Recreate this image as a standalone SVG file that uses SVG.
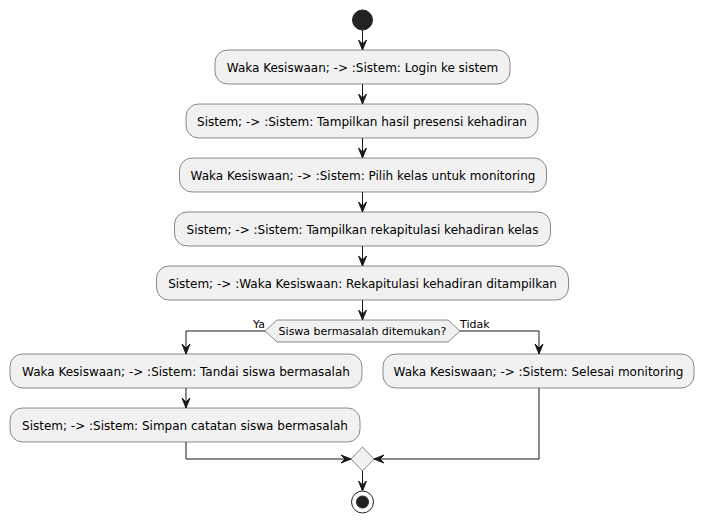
<svg xmlns="http://www.w3.org/2000/svg" width="704" height="523" viewBox="0 0 704 523">
<style>
.box{fill:#F1F1F1;stroke:#181818;stroke-width:0.5}
.t{font-family:"DejaVu Sans",sans-serif;font-size:12px;fill:#000;text-anchor:middle}
.s{font-family:"DejaVu Sans",sans-serif;font-size:11px;fill:#000}
.ln{fill:none;stroke:#181818;stroke-width:1}
.ah{fill:#181818;stroke:#181818;stroke-width:1}
</style>
<defs>
<polygon id="ad" points="-4,-10 0,0 4,-10 0,-6"/>
<polygon id="ar" points="-10,-4 0,0 -10,4 -6,0"/>
<polygon id="al" points="10,-4 0,0 10,4 6,0"/>
</defs>
<rect width="704" height="523" fill="#FFFFFF"/>
<g id="connectors">
<line class="ln" x1="362.5" y1="30" x2="362.5" y2="50"/>
<use href="#ad" class="ah" x="362.5" y="50"/>
<line class="ln" x1="362.5" y1="84" x2="362.5" y2="104"/>
<use href="#ad" class="ah" x="362.5" y="104"/>
<line class="ln" x1="362.5" y1="138" x2="362.5" y2="158"/>
<use href="#ad" class="ah" x="362.5" y="158"/>
<line class="ln" x1="362.5" y1="192" x2="362.5" y2="212"/>
<use href="#ad" class="ah" x="362.5" y="212"/>
<line class="ln" x1="362.5" y1="246" x2="362.5" y2="266"/>
<use href="#ad" class="ah" x="362.5" y="266"/>
<line class="ln" x1="362.5" y1="300" x2="362.5" y2="320"/>
<use href="#ad" class="ah" x="362.5" y="320"/>
<polyline class="ln" points="265,331 186,331 186,354"/>
<use href="#ad" class="ah" x="186" y="354"/>
<polyline class="ln" points="460,331 539,331 539,354"/>
<use href="#ad" class="ah" x="539" y="354"/>
<line class="ln" x1="186" y1="388" x2="186" y2="408"/>
<use href="#ad" class="ah" x="186" y="408"/>
<polyline class="ln" points="186,442 186,459 351,459"/>
<use href="#ar" class="ah" x="351" y="459"/>
<polyline class="ln" points="539,388 539,459 374,459"/>
<use href="#al" class="ah" x="374" y="459"/>
<line class="ln" x1="362.5" y1="471" x2="362.5" y2="491"/>
<use href="#ad" class="ah" x="362.5" y="491"/>
<text class="s" x="253" y="328">Ya</text>
<text class="s" x="460" y="328">Tidak</text>
</g>
<g id="start"><circle cx="362.5" cy="20" r="10" fill="#222222" stroke="#222222"/></g>
<g id="n1"><rect class="box" x="215" y="50" width="295" height="34" rx="12.5"/><text class="t" x="362.5" y="71.5">Waka Kesiswaan; -&gt; :Sistem: Login ke sistem</text></g>
<g id="n2"><rect class="box" x="186" y="104" width="352" height="34" rx="12.5"/><text class="t" x="362" y="125.5">Sistem; -&gt; :Sistem: Tampilkan hasil presensi kehadiran</text></g>
<g id="n3"><rect class="box" x="179.5" y="158" width="367" height="34" rx="12.5"/><text class="t" x="363" y="179.5">Waka Kesiswaan; -&gt; :Sistem: Pilih kelas untuk monitoring</text></g>
<g id="n4"><rect class="box" x="174.5" y="212" width="376" height="34" rx="12.5"/><text class="t" x="362.5" y="233.5">Sistem; -&gt; :Sistem: Tampilkan rekapitulasi kehadiran kelas</text></g>
<g id="n5"><rect class="box" x="156.5" y="266" width="412" height="34" rx="12.5"/><text class="t" x="362.5" y="287.5">Sistem; -&gt; :Waka Kesiswaan: Rekapitulasi kehadiran ditampilkan</text></g>
<g id="d1"><polygon class="box" points="277,320 448,320 460,331 448,342 277,342 265,331"/><text class="s" x="362.5" y="335" text-anchor="middle">Siswa bermasalah ditemukan?</text></g>
<g id="n6"><rect class="box" x="10" y="354" width="352" height="34" rx="12.5"/><text class="t" x="186" y="375.5">Waka Kesiswaan; -&gt; :Sistem: Tandai siswa bermasalah</text></g>
<g id="n7"><rect class="box" x="10" y="408" width="350" height="34" rx="12.5"/><text class="t" x="185" y="429.5">Sistem; -&gt; :Sistem: Simpan catatan siswa bermasalah</text></g>
<g id="n8"><rect class="box" x="383" y="354" width="311" height="34" rx="12.5"/><text class="t" x="538.5" y="375.5">Waka Kesiswaan; -&gt; :Sistem: Selesai monitoring</text></g>
<g id="merge"><polygon class="box" points="362.5,447 374,459 362.5,471 351,459"/></g>
<g id="end"><circle cx="362.5" cy="502" r="11" fill="none" stroke="#222222" stroke-width="1"/><circle cx="362.5" cy="502" r="6" fill="#222222" stroke="#222222"/></g>
</svg>
